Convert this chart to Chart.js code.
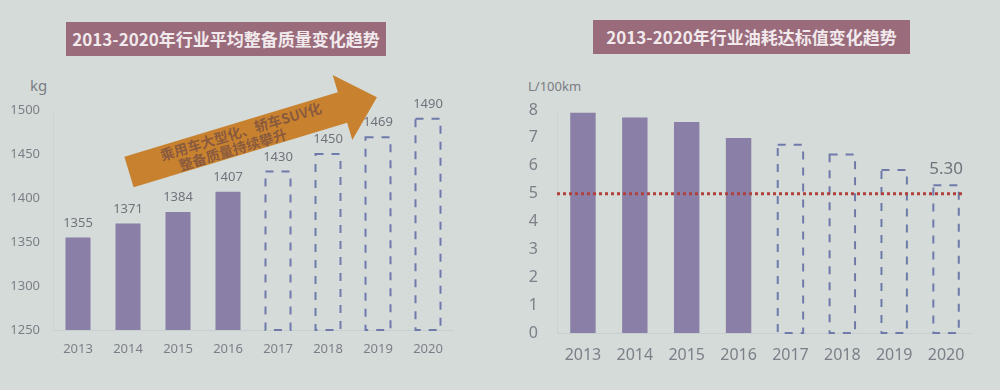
<!DOCTYPE html>
<html lang="zh">
<head>
<meta charset="utf-8">
<script src="https://cdn.jsdelivr.net/npm/chart.js@4"></script>
<style>
  body { margin: 0; width: 1000px; height: 390px; background: #d4dbd8; overflow: hidden; position: relative; font-family: "Noto Sans CJK SC", sans-serif; }
  .titulo { position: absolute; background: #9a6b7b; color: #f1e9ec; font-weight: bold; font-size: 17px; text-align: center; line-height: 34px; height: 34px; white-space: nowrap; }
  .unidad { position: absolute; color: #7b7b84; font-family: "Noto Sans", sans-serif; }
  .lienzo { position: absolute; top: 0; height: 390px; }
  .flecha { position: absolute; left: 0; top: 0; pointer-events: none; }
</style>
</head>
<body>
<div class="titulo" style="left:66px; top:22px; width:320px;">2013-2020年行业平均整备质量变化趋势</div>
<div class="titulo" style="left:593px; top:20px; width:317px;">2013-2020年行业油耗达标值变化趋势</div>
<div class="unidad" style="left:30px; top:75px; font-size:15px;">kg</div>
<div class="unidad" style="left:528px; top:77px; font-size:13px;">L/100km</div>

<div class="lienzo" style="left:0; width:480px;"><canvas id="grafica-masa" width="480" height="390"></canvas></div>
<div class="lienzo" style="left:500px; width:500px;"><canvas id="grafica-consumo" width="500" height="390"></canvas></div>

<svg class="flecha" width="480" height="390">
  <g transform="translate(129,172) rotate(-16.8)">
    <polygon points="0,-16 223,-16 223,-34 259,0 223,34 223,16 0,16" fill="#c8822f"/>
    <text x="119" y="-1" text-anchor="middle" font-size="14" font-weight="bold" fill="#8a5a3e" font-family="Noto Sans CJK SC">乘用车大型化、轿车SUV化</text>
    <text x="106" y="14" text-anchor="middle" font-size="14" font-weight="bold" fill="#8a5a3e" font-family="Noto Sans CJK SC">整备质量持续攀升</text>
  </g>
</svg>

<script>
// Datos
const anios = ['2013', '2014', '2015', '2016', '2017', '2018', '2019', '2020'];
const masaKg = [1355, 1371, 1384, 1407, 1430, 1450, 1469, 1490];
const consumoL = [7.9, 7.73, 7.57, 7.0, 6.75, 6.4, 5.85, 5.3];
const primerEstimado = 4;      // desde 2017 son valores previstos
const consumoObjetivo = 5;     // linea punteada roja
const etiquetasConsumo = [7];  // solo se rotula 2020

const colorBarra = '#8a7fa7';
const colorGuion = '#6f7aab';
const colorTexto = '#7e7e88';

// Plugin: barras previstas con borde discontinuo, etiquetas y linea objetivo
const marcasExtra = {
  id: 'marcasExtra',
  afterDatasetsDraw(chart, args, opts) {
    const ctx = chart.ctx;
    const meta = chart.getDatasetMeta(0);
    const valores = chart.data.datasets[0].data;
    const fondo = chart.chartArea.bottom;
    ctx.save();

    ctx.strokeStyle = colorGuion;
    ctx.lineWidth = 2;
    ctx.setLineDash([8, 8]);
    meta.data.forEach((barra, i) => {
      if (i < primerEstimado) return;
      const p = barra.getProps(['x', 'y', 'base', 'width'], true);
      const base = Math.min(p.base, fondo);
      ctx.strokeRect(p.x - p.width / 2, p.y, p.width, base - p.y);
    });

    if (opts.objetivo !== undefined) {
      const y = chart.scales.y.getPixelForValue(opts.objetivo);
      ctx.strokeStyle = '#b0403c';
      ctx.lineWidth = 3;
      ctx.setLineDash([3, 3]);
      ctx.beginPath();
      ctx.moveTo(chart.chartArea.left, y);
      ctx.lineTo(chart.chartArea.right - 10, y);
      ctx.stroke();
    }

    ctx.setLineDash([]);
    ctx.fillStyle = '#72727c';
    ctx.font = opts.fuente;
    ctx.textAlign = 'center';
    ctx.textBaseline = 'bottom';
    meta.data.forEach((barra, i) => {
      if (opts.indices && !opts.indices.includes(i)) return;
      ctx.fillText(opts.formato(valores[i]), barra.x, barra.y - opts.separacion);
    });
    ctx.restore();
  }
};

function coloresBarras(n) {
  return Array.from({ length: n }, (_, i) => i < primerEstimado ? colorBarra : 'rgba(0,0,0,0)');
}

// Grafica izquierda: masa
new Chart(document.getElementById('grafica-masa'), {
  type: 'bar',
  data: {
    labels: anios,
    datasets: [{
      data: masaKg,
      backgroundColor: coloresBarras(masaKg.length),
      barPercentage: 0.5,
      categoryPercentage: 1
    }]
  },
  options: {
    responsive: false,
    animation: false,
    layout: { padding: { top: 110, right: 27, left: 0, bottom: 0 } },
    plugins: {
      legend: { display: false },
      tooltip: { enabled: false },
      marcasExtra: { fuente: '13px "Noto Sans"', separacion: 8, formato: v => String(v) }
    },
    scales: {
      x: {
        grid: { display: false },
        border: { color: '#c8cfd1' },
        ticks: { color: colorTexto, font: { family: 'Noto Sans', size: 13 }, padding: 3 },
        afterFit(scale) { scale.height = 60; }
      },
      y: {
        min: 1250, max: 1500,
        grid: { display: false },
        border: { color: '#cdd3d4' },
        ticks: { stepSize: 50, color: colorTexto, font: { family: 'Noto Sans', size: 13 }, padding: 5, callback: v => String(v) },
        afterFit(scale) { scale.width = 53; }
      }
    }
  },
  plugins: [marcasExtra]
});

// Grafica derecha: consumo
new Chart(document.getElementById('grafica-consumo'), {
  type: 'bar',
  data: {
    labels: anios,
    datasets: [{
      data: consumoL,
      backgroundColor: coloresBarras(consumoL.length),
      barPercentage: 0.49,
      categoryPercentage: 1
    }]
  },
  options: {
    responsive: false,
    animation: false,
    layout: { padding: { top: 110, right: 28, left: 0, bottom: 0 } },
    plugins: {
      legend: { display: false },
      tooltip: { enabled: false },
      marcasExtra: {
        fuente: '17px "Noto Sans"', separacion: 8,
        indices: etiquetasConsumo, objetivo: consumoObjetivo,
        formato: v => v.toFixed(2)
      }
    },
    scales: {
      x: {
        grid: { display: false },
        border: { color: '#c8cfd1' },
        ticks: { color: colorTexto, font: { family: 'Noto Sans', size: 16 }, padding: 5 },
        afterFit(scale) { scale.height = 57; }
      },
      y: {
        min: 0, max: 8,
        grid: { display: false },
        border: { color: '#cdd3d4' },
        ticks: { stepSize: 1, color: colorTexto, font: { family: 'Noto Sans', size: 16 }, padding: 11 },
        afterFit(scale) { scale.width = 57; }
      }
    }
  },
  plugins: [marcasExtra]
});
</script>
</body>
</html>
